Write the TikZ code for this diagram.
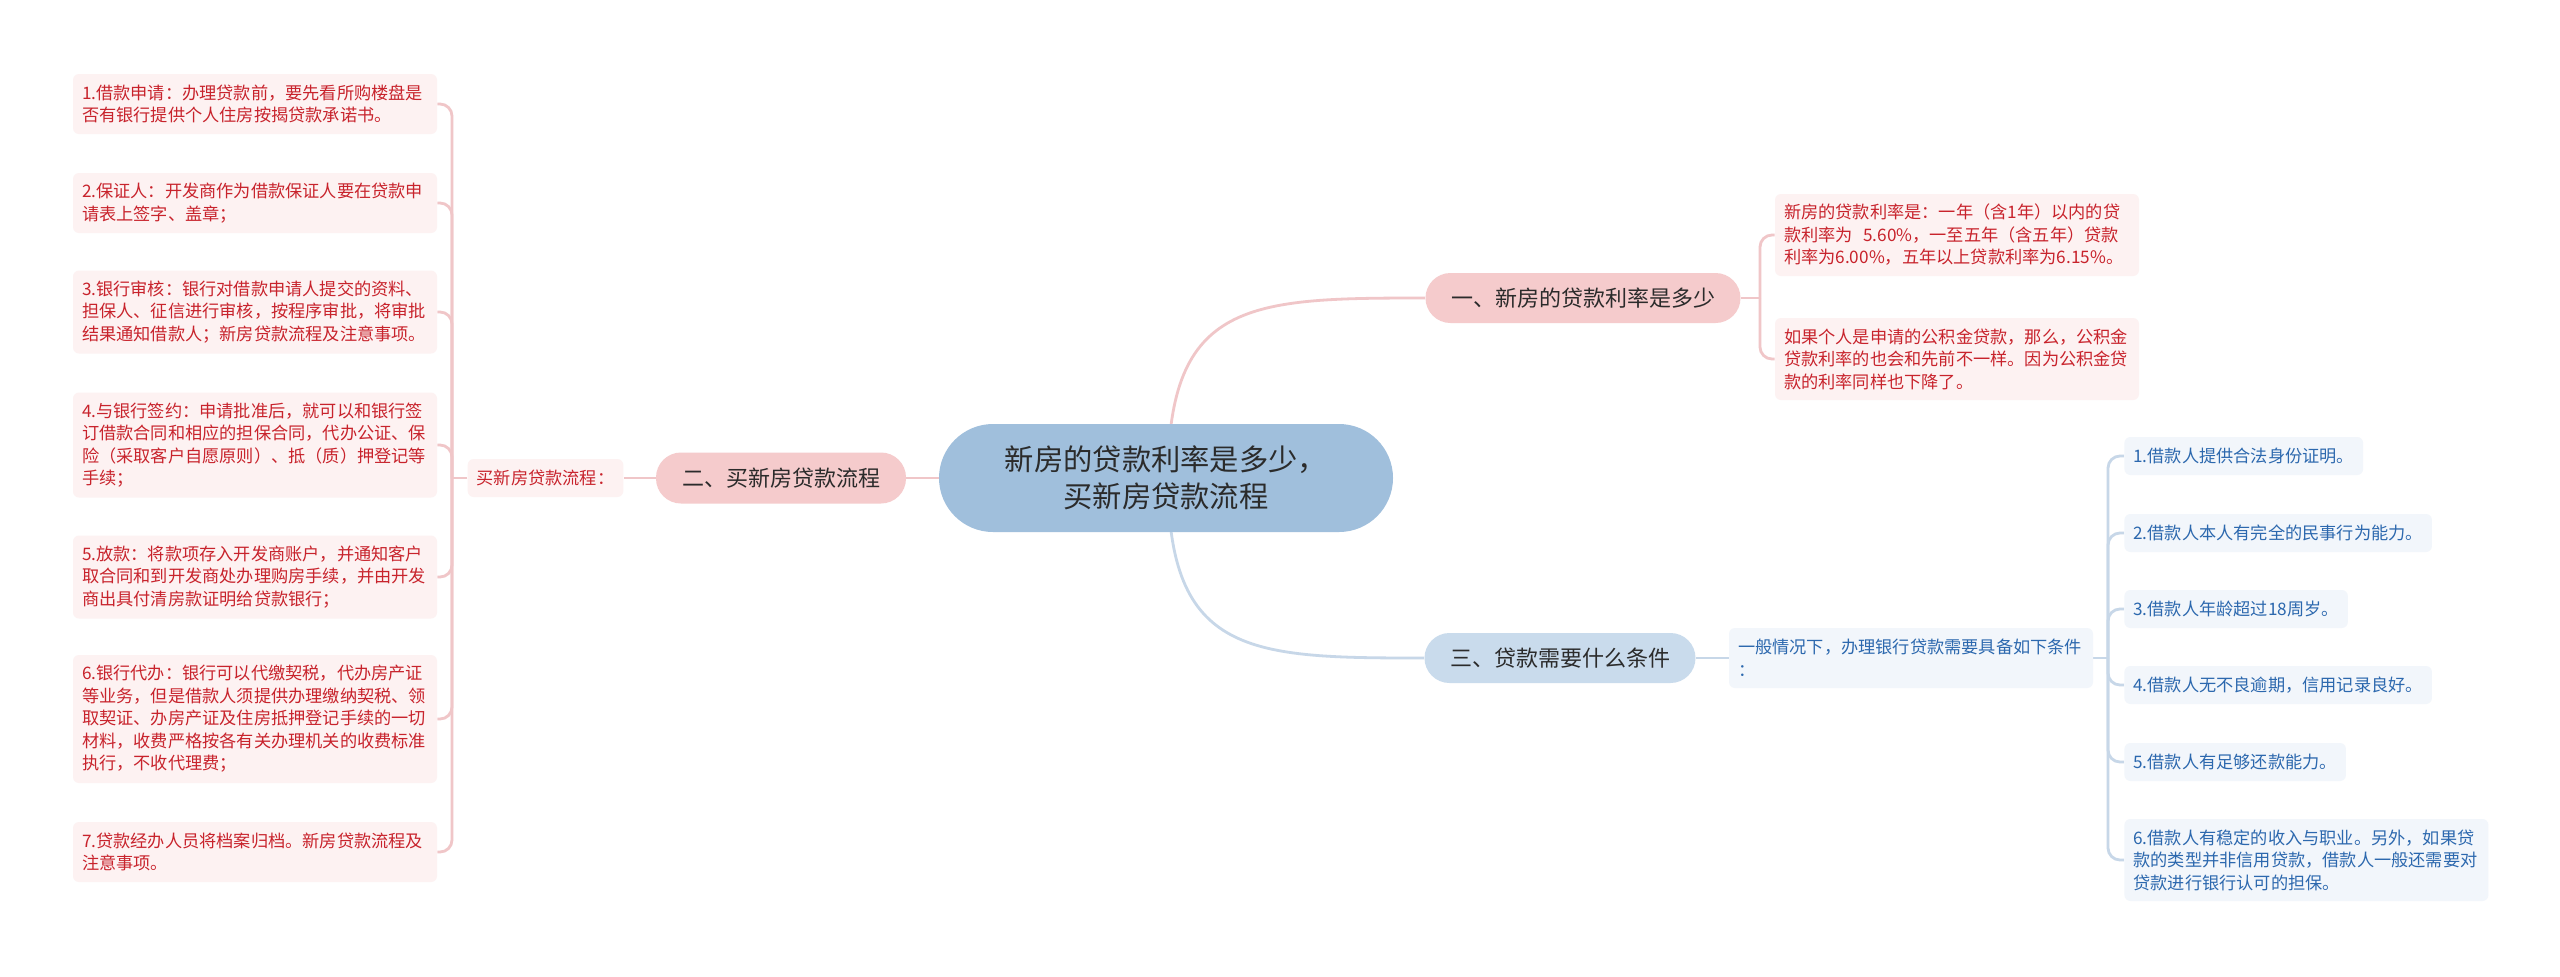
\documentclass[tikz,border=0pt]{standalone}
\usepackage{fontspec}
\setmainfont{Noto Sans CJK SC}
\usetikzlibrary{backgrounds}
\definecolor{centerfill}{HTML}{A0BFDC}
\definecolor{maintext}{HTML}{2B2B2B}
\definecolor{pinkpill}{HTML}{F5CBCC}
\definecolor{bluepill}{HTML}{C9DBEC}
\definecolor{pinkbox}{HTML}{FDF2F2}
\definecolor{bluebox}{HTML}{F2F6FB}
\definecolor{redtext}{HTML}{C8232C}
\definecolor{bluetext}{HTML}{2C68AE}
\definecolor{pinkline}{HTML}{F0C6C8}
\definecolor{blueline}{HTML}{C7D7E8}
\tikzset{
  pill/.style={rounded corners=12.5pt, inner sep=0pt, text=maintext,
    font=\fontsize{11}{13}\selectfont},
  leaf/.style={rounded corners=3pt, fill=pinkbox, text=redtext, align=left,
    inner xsep=4.5pt, inner ysep=0pt, font=\fontsize{8.6}{11.25}\selectfont},
  bleaf/.style={leaf, fill=bluebox, text=bluetext},
  pconn/.style={draw=pinkline, line width=1.4pt},
  bconn/.style={draw=blueline, line width=1.4pt},
}
\begin{document}
\begin{tikzpicture}[x=0.5pt, y=-0.5pt]
\useasboundingbox (0,0) rectangle (2560,976);

% central node
\node[rounded corners=27pt, fill=centerfill, text=maintext, align=center,
  minimum width=227pt, minimum height=54pt, inner sep=0pt,
  font=\fontsize{14.65}{18.5}\selectfont] (C) at (1166,478)
  {新房的贷款利率是多少，\\买新房贷款流程};

% main branches
\node[pill, fill=pinkpill, minimum width=157.5pt, minimum height=25pt] (B1) at (1583,298) {一、新房的贷款利率是多少};
\node[pill, fill=pinkpill, minimum width=125pt, minimum height=25.5pt] (B2) at (781,478) {二、买新房贷款流程};
\node[pill, fill=bluepill, minimum width=135.5pt, minimum height=25pt] (B3) at (1560,658) {三、贷款需要什么条件};

% branch 1 children
\node[leaf, text width=173pt, minimum height=41pt] (R1) at (1957,235)
  {新房的贷款利率是：一年（含1年）以内的贷\\款利率为\hspace{0.6em}5.60\%，一至五年（含五年）贷款\\利率为6.00\%，五年以上贷款利率为6.15\%。};
\node[leaf, text width=173pt, minimum height=41pt] (R2) at (1957,359)
  {如果个人是申请的公积金贷款，那么，公积金\\贷款利率的也会和先前不一样。因为公积金贷\\款的利率同样也下降了。};

% branch 2 children
\node[leaf, minimum height=19pt] (LAB) at (545.5,478) {买新房贷款流程：};
\node[leaf, text width=173pt, minimum height=30pt] (L1) at (255,104)
  {1.借款申请：办理贷款前，要先看所购楼盘是\\否有银行提供个人住房按揭贷款承诺书。};
\node[leaf, text width=173pt, minimum height=30pt] (L2) at (255,203)
  {2.保证人：开发商作为借款保证人要在贷款申\\请表上签字、盖章；};
\node[leaf, text width=173pt, minimum height=41.5pt] (L3) at (255,312)
  {3.银行审核：银行对借款申请人提交的资料、\\担保人、征信进行审核，按程序审批，将审批\\结果通知借款人；新房贷款流程及注意事项。};
\node[leaf, text width=173pt, minimum height=52.5pt] (L4) at (255,445)
  {4.与银行签约：申请批准后，就可以和银行签\\订借款合同和相应的担保合同，代办公证、保\\险（采取客户自愿原则）、抵（质）押登记等\\手续；};
\node[leaf, text width=173pt, minimum height=41.5pt] (L5) at (255,577)
  {5.放款：将款项存入开发商账户，并通知客户\\取合同和到开发商处办理购房手续，并由开发\\商出具付清房款证明给贷款银行；};
\node[leaf, text width=173pt, minimum height=64pt] (L6) at (255,719)
  {6.银行代办：银行可以代缴契税，代办房产证\\等业务，但是借款人须提供办理缴纳契税、领\\取契证、办房产证及住房抵押登记手续的一切\\材料，收费严格按各有关办理机关的收费标准\\执行，不收代理费；};
\node[leaf, text width=173pt, minimum height=30pt] (L7) at (255,852)
  {7.贷款经办人员将档案归档。新房贷款流程及\\注意事项。};

% branch 3 children
\node[bleaf, text width=173pt, minimum height=30pt] (K) at (1911,658)
  {一般情况下，办理银行贷款需要具备如下条件\\：};
\node[bleaf, anchor=west, minimum height=19pt] (Q1) at (2124,456) {1.借款人提供合法身份证明。};
\node[bleaf, anchor=west, minimum height=19pt] (Q2) at (2124,533) {2.借款人本人有完全的民事行为能力。};
\node[bleaf, anchor=west, minimum height=19pt] (Q3) at (2124,609) {3.借款人年龄超过18周岁。};
\node[bleaf, anchor=west, minimum height=19pt] (Q4) at (2124,685) {4.借款人无不良逾期，信用记录良好。};
\node[bleaf, anchor=west, minimum height=19pt] (Q5) at (2124,762) {5.借款人有足够还款能力。};
\node[bleaf, anchor=west, text width=173pt, minimum height=41pt] (Q6) at (2124,860)
  {6.借款人有稳定的收入与职业。另外，如果贷\\款的类型并非信用贷款，借款人一般还需要对\\贷款进行银行认可的担保。};

\coordinate (JL) at (452,478);
\coordinate (J1) at (1760,298);
\coordinate (J3) at (2108,658);
\coordinate (CO) at (1168,478);

\begin{pgfonlayer}{background}
  \fill[white] (0,0) rectangle (2560,976);
  \draw[pconn] (CO) .. controls (1168,300) and (1250,298) .. (B1.west);
  \draw[bconn] (CO) .. controls (1168,656) and (1250,658) .. (B3.west);
  \draw[pconn] (C.west) -- (B2.east);
  \draw[pconn] (B2.west) -- (LAB.east);
  \draw[pconn] (LAB.west) -- (JL);
  \foreach \n in {L1,L2,L3,L4,L5,L6,L7}
    \draw[pconn, rounded corners=6pt] (JL) |- (\n.east);
  \draw[pconn] (B1.east) -- (J1);
  \foreach \n in {R1,R2}
    \draw[pconn, rounded corners=6pt] (J1) |- (\n.west);
  \draw[bconn] (B3.east) -- (K.west);
  \draw[bconn] (K.east) -- (J3);
  \foreach \n in {Q1,Q2,Q3,Q4,Q5,Q6}
    \draw[bconn, rounded corners=6pt] (J3) |- (\n.west);
\end{pgfonlayer}
\end{tikzpicture}
\end{document}
